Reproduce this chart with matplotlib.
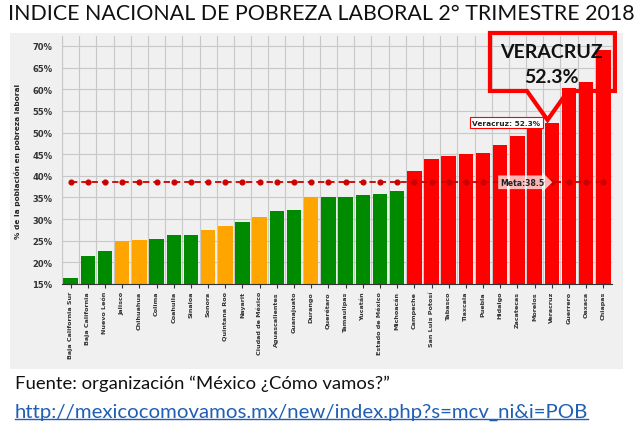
import matplotlib
matplotlib.use("Agg")
import matplotlib.pyplot as plt
from matplotlib.patches import Rectangle, Polygon
from matplotlib.lines import Line2D

states = ["Baja California Sur", "Baja California", "Nuevo León", "Jalisco", "Chihuahua",
          "Colima", "Coahuila", "Sinaloa", "Sonora", "Quintana Roo", "Nayarit",
          "Ciudad de México", "Aguascalientes", "Guanajuato", "Durango", "Querétaro",
          "Tamaulipas", "Yucatán", "Estado de México", "Michoacán", "Campeche",
          "San Luis Potosí", "Tabasco", "Tlaxcala", "Puebla", "Hidalgo", "Zacatecas",
          "Morelos", "Veracruz", "Guerrero", "Oaxaca", "Chiapas"]
values = [16.5, 21.5, 22.7, 25.0, 25.1, 25.5, 26.3, 26.3, 27.5, 28.3, 29.4, 30.4,
          31.8, 32.2, 35.1, 35.1, 35.0, 35.6, 35.9, 36.5, 41.0, 43.8, 44.5, 45.0,
          45.2, 47.1, 49.3, 50.8, 52.3, 60.4, 61.7, 69.0]
groups = ["g", "g", "g", "o", "o", "g", "g", "g", "o", "o", "g", "o", "g", "g", "o", "g",
          "g", "g", "g", "g", "r", "r", "r", "r", "r", "r", "r", "r", "r", "r", "r", "r"]
meta = 38.5
yticks = [15, 20, 25, 30, 35, 40, 45, 50, 55, 60, 65, 70]
highlight = "Veracruz"

title = "INDICE NACIONAL DE POBREZA LABORAL 2° TRIMESTRE 2018"
source = "Fuente: organización “México ¿Cómo vamos?”"
link = "http://mexicocomovamos.mx/new/index.php?s=mcv_ni&i=POB"
ylabel = "% de la población en pobreza laboral"

palette = {"g": "#008a00", "o": "#ffa500", "r": "#ff0000"}
W, H = 640, 439
fig = plt.figure(figsize=(W / 100, H / 100), dpi=100)
fig.patch.set_facecolor("white")
bg = "#f0f0f0"
fig.patches.append(Rectangle((10 / W, 1 - 370 / H), 613 / W, 336 / H,
                             transform=fig.transFigure, fc=bg, ec="none", zorder=-10))

ax = fig.add_axes([62 / W, 1 - 285 / H, 550 / W, 248 / H])
ax.set_facecolor(bg)
x = list(range(len(states)))
ax.bar(x, values, width=0.84, color=[palette[g] for g in groups], zorder=2)
ax.plot(x, [meta] * len(x), color="#cc0000", ls=(0, (3.5, 2.2)), lw=1.3,
        marker="o", ms=3.4, zorder=3)
ax.set_xlim(-0.5, len(states) - 0.5)
ax.set_ylim(15, 72.3)
ax.set_yticks(yticks)
ax.set_yticklabels([f"{v}%" for v in yticks], fontsize=6, fontweight="bold", color="#333333")
ax.set_xticks(x)
ax.set_xticklabels(states, rotation=90, fontsize=4.6, fontweight="bold", color="#333333")
ax.set_xticks([i - 0.5 for i in range(len(states) + 1)], minor=True)
ax.grid(which="minor", axis="x", color="#c8c8c8", lw=0.8, zorder=0)
ax.grid(which="major", axis="y", color="#c8c8c8", lw=0.8, zorder=0)
ax.tick_params(axis="y", length=0, pad=7)
ax.tick_params(axis="x", which="major", length=3, color="#333333", pad=2)
ax.tick_params(axis="x", which="minor", length=0)
for s in ["top", "right"]:
    ax.spines[s].set_visible(False)
ax.spines["left"].set_color("#c8c8c8")
ax.spines["bottom"].set_color("#333333")
ax.set_ylabel(ylabel, fontsize=5.3, fontweight="bold", color="#222222", labelpad=8)

# Meta label
ax.annotate(f"Meta:{meta}", xy=(26.3, meta), ha="center", va="center", fontsize=5.6,
            fontweight="bold", color="#222222", zorder=5,
            bbox=dict(boxstyle="rarrow,pad=0.3", fc=(1, 1, 1, 0.72), ec="none"))

vi = states.index(highlight)
vv = values[vi]
ax.annotate(f"{highlight}: {vv}%", xy=(vi - 2.65, vv), ha="center", va="center", fontsize=5.3,
            fontweight="bold", color="#222222", zorder=5,
            bbox=dict(boxstyle="square,pad=0.35", fc="white", ec="#ff0000", lw=0.8))

# big callout
bx0, bx1 = vi - 3.6, vi + 3.67
by0, by1 = vv + 7.3, vv + 20.7
apex = (vi - 0.25, vv + 0.6)
pts = [(bx0, by0), (vi - 1.45, by0), apex, (vi + 0.94, by0), (bx1, by0), (bx1, by1), (bx0, by1)]
ax.add_patch(Polygon(pts, closed=True, fc="none", ec="#ff0000", lw=3, zorder=6,
                     clip_on=False, joinstyle="miter"))
ax.text(vi, vv + 16.4, highlight.upper(), ha="center", va="center", fontsize=14,
        fontweight="bold", family="Lato", color="#111111", zorder=7, clip_on=False)
ax.text(vi, vv + 10.6, f"{vv}%", ha="center", va="center", fontsize=14,
        fontweight="bold", family="Lato", color="#111111", zorder=7, clip_on=False)

t1 = fig.text(8 / W, 1 - 14 / H, title, ha="left", va="center", fontsize=17,
              family="Lato", color="#111111")
t2 = fig.text(15 / W, 1 - 384 / H, source, ha="left", va="center", fontsize=13,
              family="Lato", color="#111111")
t3 = fig.text(15 / W, 1 - 412 / H, link, ha="left", va="center", fontsize=13,
              family="Lato", color="#1f5fb4")

fig.canvas.draw()
r = fig.canvas.get_renderer()
for t, target in [(t1, 624), (t2, 372), (t3, 570)]:
    w = t.get_window_extent(r).width
    t.set_fontsize(t.get_fontsize() * target / w)
fig.canvas.draw()
bb = t3.get_window_extent(r)
fig.lines.append(Line2D([bb.x0 / W, bb.x1 / W], [(bb.y0 + 1) / H] * 2,
                        transform=fig.transFigure, color="#1f5fb4", lw=1))
fig.savefig("out.png", dpi=100)
